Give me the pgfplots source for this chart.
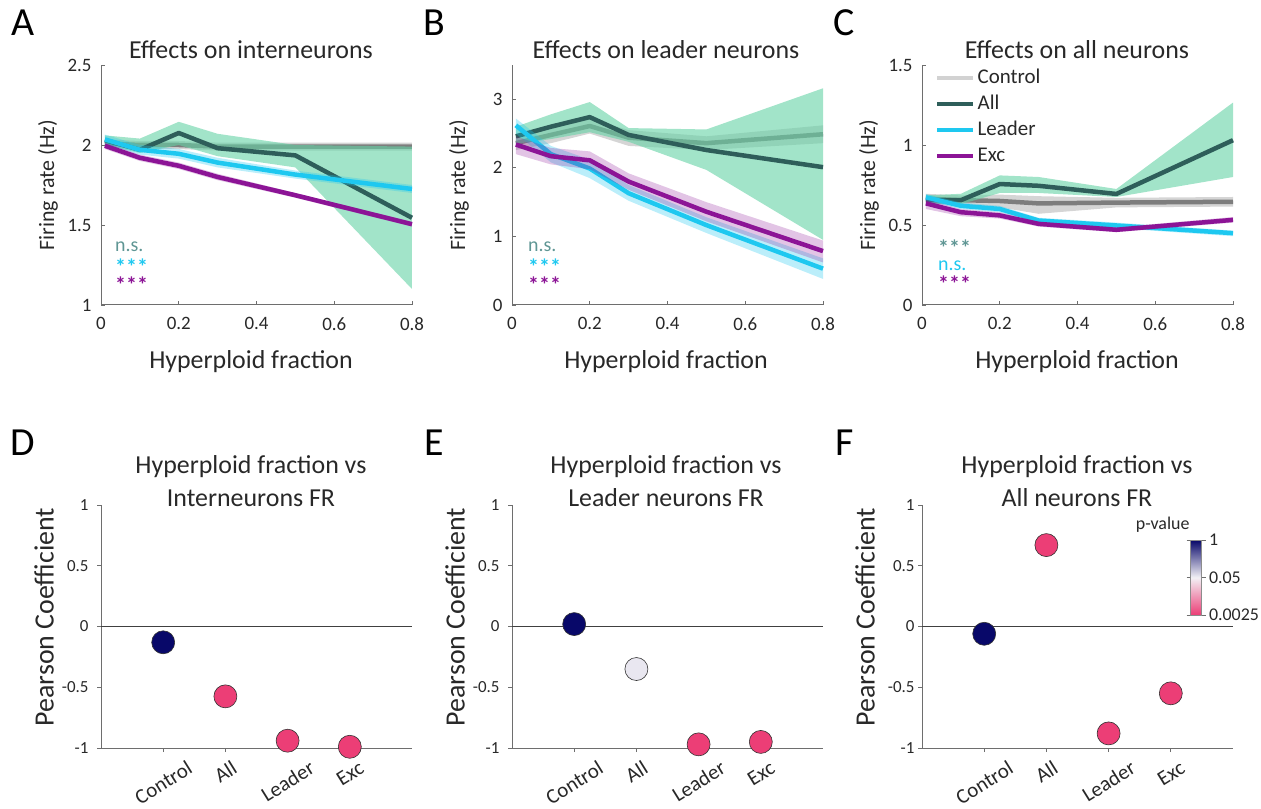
\documentclass[border=0pt]{standalone}
\usepackage{pgfplots}
\pgfplotsset{compat=1.18}
\usepackage{pgfplotstable}
\usepackage{fontspec}
\setmainfont{Carlito}

\newcommand{\fs}[1]{\fontsize{#1}{#1}\selectfont}
% rotated category label: centre above the tick, right end on a fixed baseline
\newlength{\labw}
\newcommand{\rl}[1]{\settowidth{\labw}{#1}\raisebox{-0.225\labw}{#1\hspace*{-0.36\labw}}}

\definecolor{txt}{RGB}{40,40,40}
\definecolor{axgray}{RGB}{110,110,110}
\definecolor{ctrlln}{RGB}{125,125,125}
\definecolor{ctrlbd}{RGB}{195,195,195}
\definecolor{ctrlleg}{RGB}{210,210,210}
\definecolor{allln}{RGB}{46,94,90}
\definecolor{allbd}{RGB}{100,210,165}
\definecolor{leadln}{RGB}{30,200,240}
\definecolor{excln}{RGB}{140,20,150}
\definecolor{nscol}{RGB}{95,150,148}

% mean firing rates: control (c), all (a), leader (l), exc (e)
\pgfplotstableread{
x     c     a     l     e
0.01  2.01  2.03  2.035 1.995
0.1   2.00  1.97  1.97  1.92
0.2   2.00  2.075 1.945 1.87
0.3   1.99  1.98  1.89  1.80
0.5   1.99  1.935 1.815 1.686
0.8   1.99  1.545 1.725 1.505
}\tabA
% shaded bands: upper edge left to right, then lower edge right to left
\pgfplotstableread{
x     c     a     l     e
0.01  2.035 2.06  2.065 2.015
0.1   2.025 2.04  2.00  1.94
0.2   2.025 2.145 1.975 1.89
0.3   2.015 2.07  1.92  1.82
0.5   2.015 2.00  1.84  1.70
0.8   2.015 1.99  1.75  1.52
0.8   1.965 1.10  1.70  1.49
0.5   1.965 1.86  1.79  1.67
0.3   1.965 1.93  1.86  1.78
0.2   1.975 2.00  1.915 1.85
0.1   1.975 1.95  1.94  1.90
0.01  1.985 2.00  2.005 1.975
}\bandA
\pgfplotstableread{
x     c     a     l     e
0.01  2.36  2.46  2.62  2.34
0.1   2.48  2.60  2.20  2.17
0.2   2.61  2.74  1.99  2.11
0.3   2.44  2.48  1.63  1.80
0.5   2.36  2.26  1.165 1.36
0.8   2.49  2.01  0.53  0.786
}\tabB
\pgfplotstableread{
x     c     a     l     e
0.01  2.46  2.60  2.72  2.46
0.1   2.58  2.78  2.32  2.29
0.2   2.72  2.96  2.12  2.24
0.3   2.55  2.58  1.75  1.92
0.5   2.46  2.56  1.28  1.50
0.8   2.62  3.16  0.68  0.94
0.8   2.36  0.95  0.38  0.62
0.5   2.26  1.97  1.05  1.22
0.3   2.32  2.38  1.52  1.68
0.2   2.50  2.52  1.85  1.98
0.1   2.36  2.42  2.08  2.05
0.01  2.26  2.35  2.50  2.20
}\bandB
\pgfplotstableread{
x     c     a     l     e
0.01  0.665 0.655 0.673 0.635
0.1   0.655 0.655 0.62  0.58
0.2   0.65  0.756 0.60  0.56
0.3   0.635 0.745 0.528 0.507
0.5   0.64  0.694 0.497 0.47
0.8   0.645 1.03  0.449 0.532
}\tabC
\pgfplotstableread{
x     c     a     l     e
0.01  0.695 0.685 0.695 0.66
0.1   0.685 0.695 0.64  0.60
0.2   0.69  0.81  0.62  0.58
0.3   0.68  0.80  0.545 0.52
0.5   0.67  0.725 0.515 0.485
0.8   0.675 1.265 0.465 0.55
0.8   0.615 0.80  0.43  0.515
0.5   0.61  0.675 0.48  0.455
0.3   0.57  0.70  0.51  0.49
0.2   0.61  0.70  0.58  0.54
0.1   0.625 0.63  0.60  0.555
0.01  0.635 0.63  0.65  0.60
}\bandC
% Pearson r and log10(p)
\pgfplotstableread{
x r      lp
1 -0.13  0
2 -0.575 -2.6
3 -0.94  -2.6
4 -0.99  -2.6
}\tabD
\pgfplotstableread{
x r      lp
1 0.02   0
2 -0.35  -1.25
3 -0.97  -2.6
4 -0.95  -2.6
}\tabE
\pgfplotstableread{
x r      lp
1 -0.06  0
2 0.67   -2.6
3 -0.88  -2.6
4 -0.55  -2.6
}\tabF

% #1 mean table, #2 band table, #3 column, #4 line colour, #5 band colour, #6 opacity
\newcommand{\series}[6]{%
  \addplot[fill=#5, fill opacity=#6, draw=none, forget plot] table[x=x, y=#3] {#2} -- cycle;
  \addplot[draw=#4, line width=4.5bp, line join=round, forget plot] table[x=x, y=#3] {#1};
}
\newcommand{\allseries}[2]{%
  \series{#1}{#2}{c}{ctrlln}{ctrlbd}{0.7}
  \series{#1}{#2}{a}{allln}{allbd}{0.6}
  \series{#1}{#2}{l}{leadln}{leadln}{0.3}
  \series{#1}{#2}{e}{excln}{excln}{0.25}
}
\newcommand{\corrdots}[1]{%
  \addplot[draw=black!75, line width=1bp, forget plot] coordinates {(0,0) (5,0)};
  \addplot[scatter, only marks, mark=*, mark size=11.5bp, scatter src=explicit,
    scatter/use mapped color={draw=black!80, fill=mapped color},
    mark options={line width=0.6bp}, forget plot] table[x=x, y=r, meta=lp] {#1};
}

\pgfplotsset{
  colormap={pv}{rgb255=(236,62,118) rgb255=(242,240,245) rgb255=(8,8,105)},
  base/.style={
    scale only axis, width=311bp, anchor=south west,
    axis lines*=left,
    axis line style={draw=axgray, line width=1bp},
    every tick/.style={draw=axgray, line width=0.8bp},
    major tick length=4bp,
    /pgf/number format/assume math mode=true,
    tick label style={text=txt},
    clip=false,
  },
  top/.style={base, height=240bp, xmin=0, xmax=0.8, xtick={0,0.2,0.4,0.6,0.8},
    tick label style={font=\fs{19}},
    xticklabel style={yshift=-9bp}, yticklabel style={xshift=-6bp}},
  bot/.style={base, height=243bp, xmin=0, xmax=5, ymin=-1, ymax=1,
    xtick={1,2,3,4}, xticklabels={\rl{Control},\rl{All},\rl{Leader},\rl{Exc}},
    ytick={-1,-0.5,0,0.5,1},
    yticklabel style={font=\fs{17}},
    xticklabel style={font=\fs{21}, inner sep=0pt, xshift=4bp, yshift=-20bp,
      rotate=32, anchor=base east},
    tick align=outside,
    colormap name=pv, point meta min=-2.6, point meta max=0},
}

\begin{document}
\begin{tikzpicture}
\path[use as bounding box] (0,0) rectangle (1261bp,809bp);

% ---------- A ----------
\begin{axis}[top, at={(101bp,504bp)}, ymin=1, ymax=2.5, ytick={1,1.5,2,2.5}]
\allseries{\tabA}{\bandA}
\end{axis}

% ---------- B ----------
\begin{axis}[top, at={(512bp,504bp)}, ymin=0, ymax=3.5, ytick={0,1,2,3}]
\allseries{\tabB}{\bandB}
\end{axis}

% ---------- C ----------
\begin{axis}[top, at={(922bp,504bp)}, ymin=0, ymax=1.5, ytick={0,0.5,1,1.5},
  legend image code/.code={\draw[#1] (0bp,0bp) -- (36bp,0bp);},
  legend cell align=left,
  legend style={at={(axis description cs:0.032,1.0)}, anchor=north west,
    draw=none, fill=none, font=\fs{21}, text=txt, row sep=4bp,
    nodes={text height=14bp, text depth=4bp, inner sep=2bp}}]
\addlegendimage{ctrlleg, line width=4.5bp}
\addlegendimage{allln, line width=4.5bp}
\addlegendimage{leadln, line width=4.5bp}
\addlegendimage{excln, line width=4.5bp}
\allseries{\tabC}{\bandC}
\legend{Control,All,Leader,Exc}
\end{axis}

% ---------- D ----------
\begin{axis}[bot, at={(101bp,61bp)}, yticklabel style={xshift=-5bp}]
\corrdots{\tabD}
\end{axis}

% ---------- E ----------
\begin{axis}[bot, at={(512bp,61bp)}, yticklabel style={xshift=-5bp}]
\corrdots{\tabE}
\end{axis}

% ---------- F ----------
\begin{axis}[bot, at={(922bp,61bp)},
  colorbar,
  colorbar style={scale only axis, width=11bp, height=75bp, axis lines=box,
    at={(parent axis.south west)}, anchor=south west, xshift=260bp, yshift=133bp,
    xtick=\empty, ytick={-2.6,-1.3,0}, yticklabels={0.0025,0.05,1},
    yticklabel style={font=\fs{18}, text=txt},
    axis line style={draw=black!45, line width=0.5bp},
    tick align=outside, major tick length=4bp}]
\corrdots{\tabF}
\end{axis}

% ---------- texts ----------
\begin{scope}[every node/.style={text=txt}]
\foreach \lx/\ly/\l in {23.5/786/A, 434.5/786/B, 844.5/786/C, 23/366/D, 434/366/E, 845/366/F}
  \node[font=\fs{40}, text=black] at (\lx bp,\ly bp) {\l};

\node[font=\fs{26}, anchor=base] at (251bp,750bp) {Effects on interneurons};
\node[font=\fs{26}, anchor=base] at (666bp,750bp) {Effects on leader neurons};
\node[font=\fs{26}, anchor=base] at (1077bp,750bp) {Effects on all neurons};

\foreach \cx in {251,666,1077}
  \node[font=\fs{26}, anchor=base] at (\cx bp,440bp) {Hyperploid fraction};
\foreach \cx in {48,459,869}
  \node[font=\fs{22}, rotate=90] at (\cx bp,624bp) {Firing rate (Hz)};
\foreach \cx in {44,455,865}
  \node[font=\fs{28}, rotate=90] at (\cx bp,192bp) {Pearson Coefficient};

\node[font=\fs{26}, anchor=base] at (251bp,335bp) {Hyperploid fraction vs};
\node[font=\fs{26}, anchor=base] at (251bp,302bp) {Interneurons FR};
\node[font=\fs{26}, anchor=base] at (666bp,335bp) {Hyperploid fraction vs};
\node[font=\fs{26}, anchor=base] at (666bp,302bp) {Leader neurons FR};
\node[font=\fs{26}, anchor=base] at (1077bp,335bp) {Hyperploid fraction vs};
\node[font=\fs{26}, anchor=base] at (1077bp,302bp) {All neurons FR};

\node[font=\fs{18}, anchor=base east] at (1193bp,279bp) {p-value};

% significance
\foreach \sx in {115,528} {
  \node[font=\fs{20}, anchor=base west, inner sep=0pt, text=nscol] at (\sx bp,557bp) {n.s.};
  \node[font=\fs{22}\bfseries, anchor=base west, inner sep=0pt, text=leadln] at (\sx bp,534bp) {***};
  \node[font=\fs{22}\bfseries, anchor=base west, inner sep=0pt, text=excln] at (\sx bp,516bp) {***};
}
\node[font=\fs{22}\bfseries, anchor=base west, inner sep=0pt, text=nscol] at (938bp,553bp) {***};
\node[font=\fs{20}, anchor=base west, inner sep=0pt, text=leadln] at (938bp,538bp) {n.s.};
\node[font=\fs{22}\bfseries, anchor=base west, inner sep=0pt, text=excln] at (938bp,517bp) {***};
\end{scope}
\end{tikzpicture}
\end{document}
